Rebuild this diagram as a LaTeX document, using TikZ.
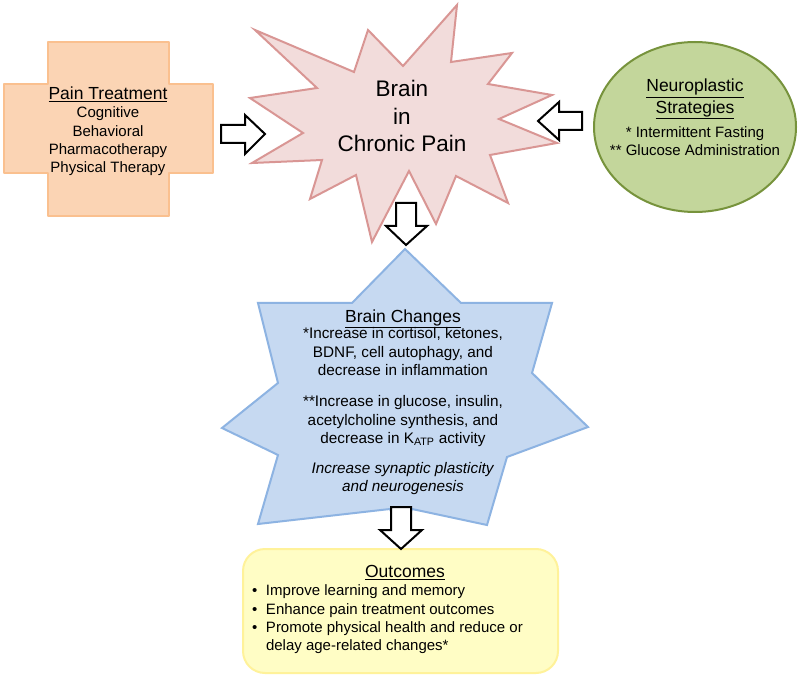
\documentclass[tikz,border=0pt]{standalone}
\usepackage{fontspec}
\setmainfont{Liberation Sans}
\definecolor{crossfill}{HTML}{FBD4B4}
\definecolor{crossline}{HTML}{FAC08F}
\definecolor{burstfill}{HTML}{F2DCDB}
\definecolor{burstline}{HTML}{D99694}
\definecolor{ellfill}{HTML}{C3D69B}
\definecolor{ellline}{HTML}{77933C}
\definecolor{starfill}{HTML}{C6D9F1}
\definecolor{starline}{HTML}{8DB3E2}
\definecolor{outfill}{HTML}{FFFDC5}
\definecolor{outborder}{HTML}{FFF29A}
\newcommand\bodyfont{\fontsize{15}{18.3}\selectfont}
\newcommand\headfont{\fontsize{17.5}{18.3}\selectfont}
\tikzset{
  shapeline/.style={line width=2pt, line join=round},
  blockarrow/.style={draw=black, fill=white, line width=2pt, line join=miter},
  txt/.style={inner sep=0pt, outer sep=0pt, align=center, font=\bodyfont, text=black},
}
\begin{document}
\begin{tikzpicture}[x=1pt,y=-1pt]
\useasboundingbox (0,0) rectangle (800,684);
\fill[white] (0,0) rectangle (800,684);
% cross
\draw[shapeline, fill=crossfill, draw=crossline]
  (48,42) -- (169,42) -- (169,84) -- (213,84) -- (213,173) -- (169,173) -- (169,216)
  -- (48,216) -- (48,173) -- (4,173) -- (4,84) -- (48,84) -- cycle;
% starburst
\draw[shapeline, fill=burstfill, draw=burstline, line join=miter]
  (255,30) -- (354,72) -- (368,30) -- (403,66) -- (457,5) -- (451,62) -- (512,53)
  -- (488,84) -- (552,95) -- (499,119) -- (557,143) -- (490,155) -- (508,203)
  -- (456,176) -- (436,224) -- (409,171) -- (372,242) -- (356,175) -- (310,199)
  -- (322,160) -- (252,163) -- (303,133) -- (250,98) -- (317,88) -- cycle;
% ellipse
\draw[shapeline, fill=ellfill, draw=ellline] (695,127) ellipse [x radius=101, y radius=85];
% blue star
\draw[shapeline, fill=starfill, draw=starline, line join=miter]
  (405,249) -- (461,303) -- (552,303) -- (532,373) -- (588,427) -- (507,457)
  -- (487,525) -- (412,509) -- (401,535) -- (390,509) -- (258,524) -- (278,455)
  -- (222,428) -- (278,383) -- (258,303) -- (352,303) -- cycle;
% outcomes box
\draw[shapeline, fill=outfill, draw=outborder, rounded corners=22pt] (243,549) rectangle (558,673);
% block arrows
\draw[blockarrow] (221,125) -- (245,125) -- (245,115) -- (265,134) -- (245,154) -- (245,143) -- (221,143) -- cycle;
\draw[blockarrow] (582,112) -- (559,112) -- (559,102) -- (538,121) -- (559,140) -- (559,130) -- (582,130) -- cycle;
\draw[blockarrow] (396,203) -- (416,203) -- (416,226) -- (427,226) -- (406,245) -- (386,226) -- (396,226) -- cycle;
\draw[blockarrow] (391,507) -- (411,507) -- (411,530) -- (422,530) -- (401,549) -- (380,530) -- (391,530) -- cycle;
% texts (anchor base = baseline of the last line)
\node[txt, anchor=base] (pain) at (108,172.7) {{\headfont\underline{Pain Treatment}}\\Cognitive\\Behavioral\\Pharmacotherapy\\Physical Therapy};
\node[txt, anchor=base, font=\fontsize{22.5}{27.5}\selectfont] (brain) at (402,151.7) {Brain\\in\\Chronic Pain};
\node[txt, anchor=base] (neuro) at (695,156) {{\headfont\underline{Neuroplastic}}\\[2.3pt]{\headfont\underline{Strategies}}\\[6pt]* Intermittent Fasting\\** Glucose Administration};
\node[txt, anchor=base, font=\fontsize{15.3}{18.2}\selectfont] (changes) at (403,491.7) {{\headfont\underline{Brain Changes}}\\[-2pt]*Increase in cortisol, ketones,\\BDNF, cell autophagy, and\\decrease in inflammation\\[13.5pt]**Increase in glucose, insulin,\\acetylcholine synthesis, and\\decrease in K\textsubscript{ATP} activity\\[12pt]\textit{Increase synaptic plasticity}\\\textit{and neurogenesis}};
\node[txt, anchor=base] (outhead) at (405,577.7) {\headfont\underline{Outcomes}};
\node[txt, anchor=base west, align=left] (outlist) at (252,650.7) {\makebox[14pt][l]{•}Improve learning and memory\\\makebox[14pt][l]{•}Enhance pain treatment outcomes\\\makebox[14pt][l]{•}Promote physical health and reduce or\\\hspace*{14pt}delay age-related changes*};
\end{tikzpicture}
\end{document}
